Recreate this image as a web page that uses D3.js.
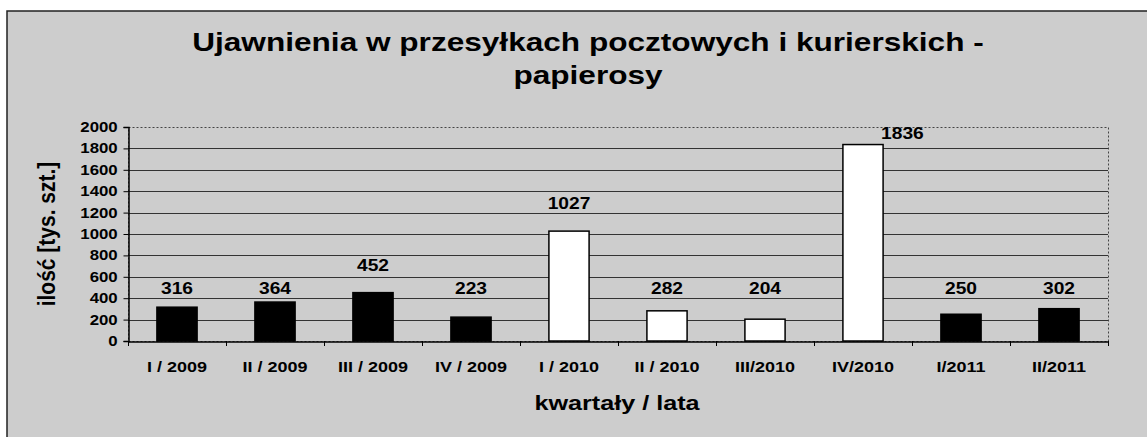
<!DOCTYPE html>
<html>
<head>
<meta charset="utf-8">
<script src="https://cdnjs.cloudflare.com/ajax/libs/d3/7.8.5/d3.min.js"></script>
<style>
  body { margin: 0; background: #fff; }
  text { fill: #000; font-family: "Liberation Sans", Arial, sans-serif; font-weight: bold; }
</style>
</head>
<body>
<svg id="chart"></svg>
<script>
const categories = ["I / 2009", "II / 2009", "III / 2009", "IV / 2009", "I / 2010",
  "II / 2010", "III/2010", "IV/2010", "I/2011", "II/2011"];
const values = [316, 364, 452, 223, 1027, 282, 204, 1836, 250, 302];
const years = [2009, 2009, 2009, 2009, 2010, 2010, 2010, 2010, 2011, 2011];
const yTicks = [0, 200, 400, 600, 800, 1000, 1200, 1400, 1600, 1800, 2000];

const width = 1147;
const height = 437;
const margin = { top: 127, right: 39, bottom: 96, left: 128 };
const stretch = 1.2; // the scanned chart is a bit wider than plain Arial

const svg = d3.select("#chart").attr("width", width).attr("height", height);

// grey scanned background frame
svg.append("rect")
  .attr("x", 7).attr("y", 11)
  .attr("width", width).attr("height", height)
  .attr("fill", "#cdcdcd")
  .attr("stroke", "#222")
  .attr("stroke-width", 1.5);

const x = d3.scaleBand()
  .domain(categories)
  .range([margin.left, width - margin.right])
  .paddingInner(0.59)
  .paddingOuter(0.295);

const y = d3.scaleLinear()
  .domain([0, 2000])
  .range([height - margin.bottom, margin.top]);

const x0 = margin.left, x1 = width - margin.right;

// gridlines
svg.append("g")
  .selectAll("line")
  .data(yTicks.filter((d) => d > 0 && d < 2000))
  .join("line")
  .attr("x1", x0).attr("x2", x1)
  .attr("y1", (d) => Math.round(y(d)) + 0.5)
  .attr("y2", (d) => Math.round(y(d)) + 0.5)
  .attr("stroke", "#333")
  .attr("stroke-width", 1);

// plot area border (dotted)
svg.append("rect")
  .attr("x", x0 + 0.5).attr("y", Math.round(y(2000)) + 0.5)
  .attr("width", x1 - x0).attr("height", y(0) - y(2000))
  .attr("fill", "none")
  .attr("stroke", "#444")
  .attr("stroke-dasharray", "2,2");

// bars
svg.append("g")
  .selectAll("rect")
  .data(values)
  .join("rect")
  .attr("x", (d, i) => x(categories[i]))
  .attr("y", (d) => y(d))
  .attr("width", x.bandwidth())
  .attr("height", (d) => y(0) - y(d))
  .attr("fill", (d, i) => (years[i] === 2010 ? "#fff" : "#000"))
  .attr("stroke", "#000")
  .attr("stroke-width", 1.5);

// value labels
const tooHigh = (d) => y(d) - 22 < margin.top;
svg.append("g")
  .selectAll("text")
  .data(values)
  .join("text")
  .attr("transform", (d, i) => {
    let lx = x(categories[i]) + x.bandwidth() / 2;
    let ly = d < 400 ? y(440) : y(d) - 22;
    if (tooHigh(d)) {
      lx = x(categories[i]) + x.bandwidth() - 2;
      ly = y(d) - 6;
    }
    return `translate(${lx},${ly}) scale(${stretch},1)`;
  })
  .attr("text-anchor", (d) => (tooHigh(d) ? "start" : "middle"))
  .style("font-size", "16px")
  .text((d) => d);

// y axis
const yAxis = svg.append("g")
  .attr("transform", `translate(${x0 + 0.5},0)`)
  .call(d3.axisLeft(y).tickValues(yTicks).tickSize(5).tickPadding(4).tickFormat(d3.format("d")));
yAxis.select(".domain").attr("stroke", "#000").attr("stroke-width", 1.5);
yAxis.selectAll(".tick line").attr("stroke", "#000");
yAxis.selectAll("text")
  .attr("transform", `scale(${stretch},1)`)
  .style("font-size", "14px");

// x axis
const xAxis = svg.append("g")
  .attr("transform", `translate(0,${Math.round(y(0)) + 0.5})`)
  .call(d3.axisBottom(x).tickSize(0).tickPadding(20));
xAxis.select(".domain").attr("stroke", "#000").attr("stroke-width", 1.5);
xAxis.selectAll("text")
  .attr("transform", `scale(${stretch},1)`)
  .style("font-size", "15px");

// category separators
svg.append("g")
  .selectAll("line")
  .data(d3.range(categories.length + 1))
  .join("line")
  .attr("x1", (i) => x0 + i * x.step() + 0.5)
  .attr("x2", (i) => x0 + i * x.step() + 0.5)
  .attr("y1", y(0))
  .attr("y2", y(0) + 5)
  .attr("stroke", "#000");

// titles
const title = svg.append("text")
  .attr("transform", `translate(588,0) scale(1.215,1)`)
  .attr("text-anchor", "middle")
  .style("font-size", "26px");
title.append("tspan").attr("x", 0).attr("y", 51)
  .text("Ujawnienia w przesyłkach pocztowych i kurierskich -");
title.append("tspan").attr("x", 0).attr("y", 84).text("papierosy");

svg.append("text")
  .attr("transform", `translate(617,410) scale(${stretch},1)`)
  .attr("text-anchor", "middle")
  .style("font-size", "21px")
  .text("kwartały / lata");

svg.append("text")
  .attr("transform", "translate(55,234) rotate(-90) scale(1,1.1)")
  .attr("text-anchor", "middle")
  .style("font-size", "21px")
  .text("ilość [tys. szt.]");
</script>
</body>
</html>
